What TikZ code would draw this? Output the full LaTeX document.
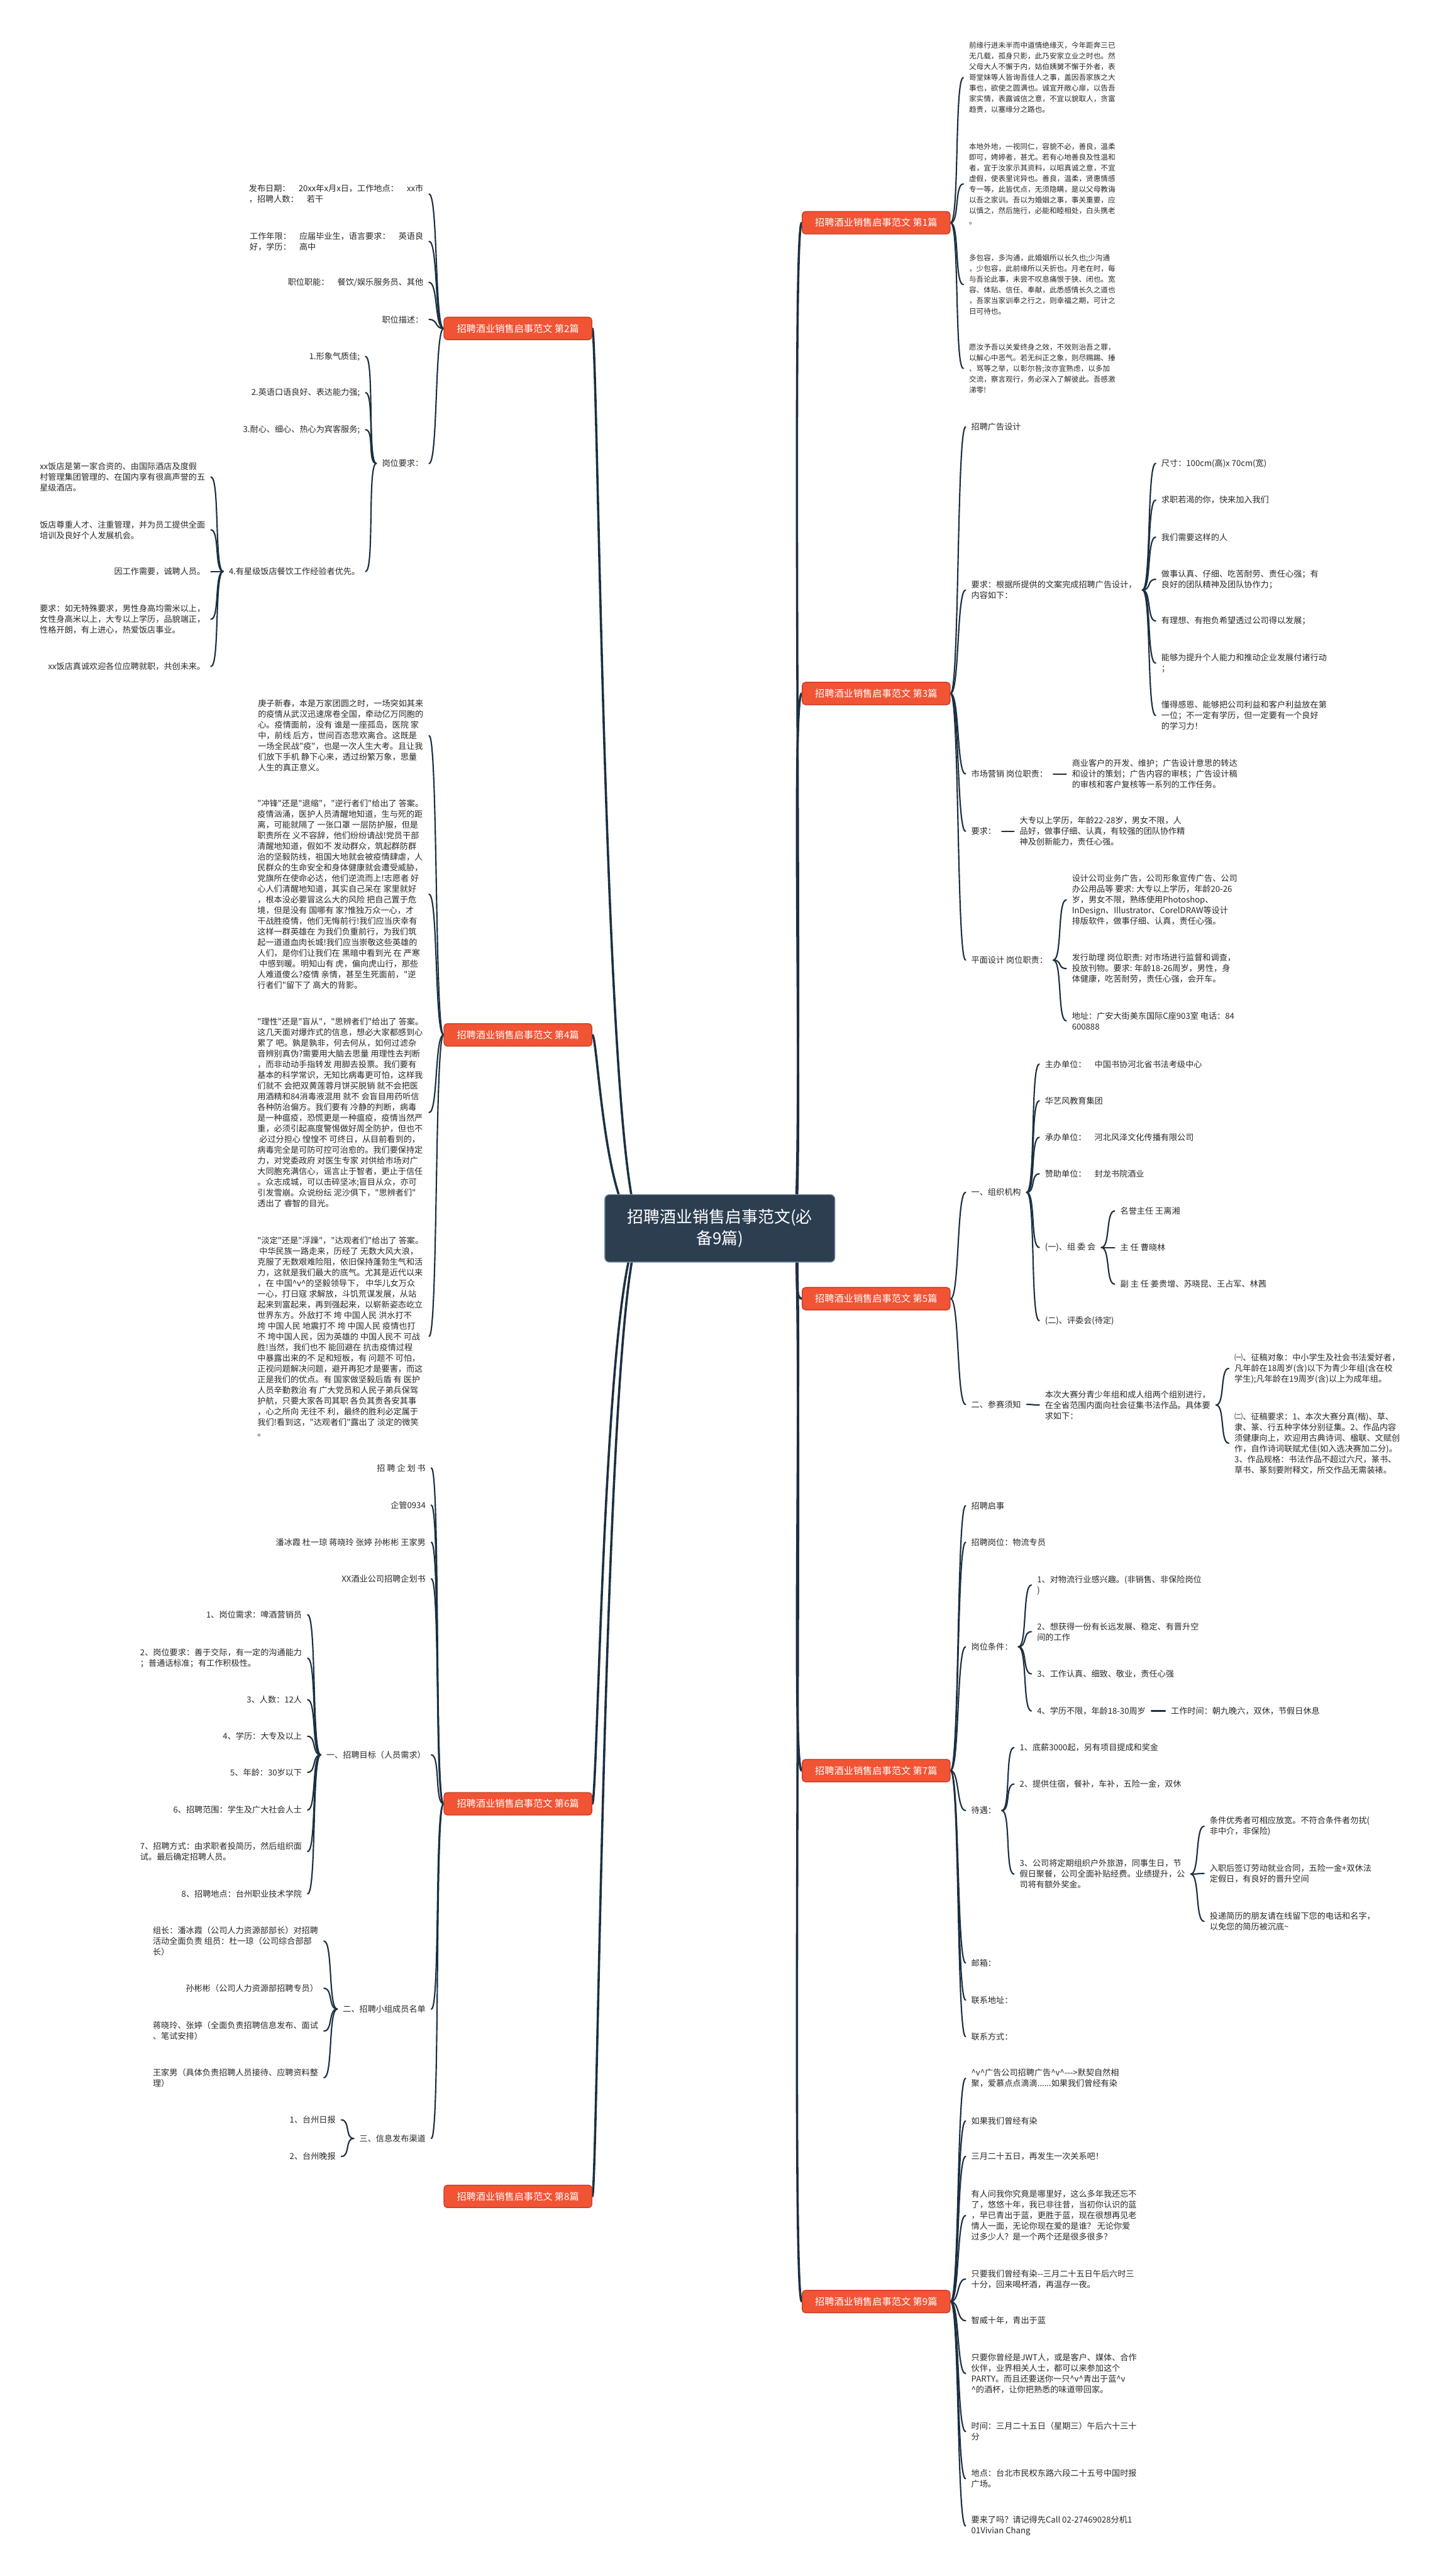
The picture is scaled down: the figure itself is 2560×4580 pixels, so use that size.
\documentclass[tikz,border=0pt]{standalone}
\usepackage{fontspec}
\newfontfamily\cjk{Noto Sans CJK SC}
\usetikzlibrary{backgrounds}
\definecolor{linkcol}{RGB}{28,48,66}
\definecolor{rootcol}{RGB}{44,62,80}
\definecolor{rootedge}{RGB}{120,140,160}
\definecolor{branchcol}{RGB}{240,84,52}
\definecolor{branchedge}{RGB}{200,58,34}
\definecolor{leafcol}{RGB}{40,40,40}
\tikzset{
  trunkline/.style={draw=linkcol, line width=4pt, line cap=round},
  linkline/.style={draw=linkcol, line width=2.4pt, line cap=round},
  rootnode/.style={fill=rootcol, draw=rootedge, line width=1.5pt, rounded corners=8pt, text=white, font=\cjk\fontsize{29pt}{38pt}\selectfont, align=center, minimum width=409pt, minimum height=120pt},
  branchnode/.style={fill=branchcol, draw=branchedge, line width=1.5pt, rounded corners=6pt, text=white, font=\cjk\fontsize{17pt}{20pt}\selectfont, minimum width=263pt, minimum height=40pt, inner xsep=8pt},
  leafnode/.style={text=leafcol, font=\cjk\fontsize{14.7pt}{19pt}\selectfont, align=left, inner xsep=10pt, inner ysep=2pt, anchor=west},
  leafleft/.style={leafnode, anchor=east},
  oldleaf/.style={leafnode, font=\cjk\fontsize{13pt}{19pt}\selectfont}
}
\begin{document}
\begin{tikzpicture}[x=1pt, y=-1pt]
\useasboundingbox (0,0) rectangle (2560,4580);
\begin{scope}[on background layer]
  \fill[white] (0,0) rectangle (2560,4580);
\end{scope}

% centre and the nine branches
\node[rootnode] (root) at (1280,2184) {招聘酒业销售启事范文(必\\备9篇)};
\node[branchnode] (b1) at (1558,396) {招聘酒业销售启事范文 第1篇};
\node[branchnode] (b3) at (1558,1233) {招聘酒业销售启事范文 第3篇};
\node[branchnode] (b5) at (1558,2309) {招聘酒业销售启事范文 第5篇};
\node[branchnode] (b7) at (1558,3148) {招聘酒业销售启事范文 第7篇};
\node[branchnode] (b9) at (1558,4092) {招聘酒业销售启事范文 第9篇};
\node[branchnode] (b2) at (921,584) {招聘酒业销售启事范文 第2篇};
\node[branchnode] (b4) at (921,1840) {招聘酒业销售启事范文 第4篇};
\node[branchnode] (b6) at (921,3207) {招聘酒业销售启事范文 第6篇};
\node[branchnode] (b8) at (921,3905) {招聘酒业销售启事范文 第8篇};

% branch 1
\node[oldleaf] (b1a) at (1713,138) {前缘行进未半而中道情绝缘灭，今年距奔三已\\无几载，孤身只影，此乃安家立业之时也。然\\父母大人不懈于内，姑伯姨舅不懈于外者，表\\哥堂妹等人皆询吾佳人之事，盖因吾家族之大\\事也，欲使之圆满也。诚宜开敞心扉，以告吾\\家实情，表露诚信之意，不宜以貌取人，贪富\\趋贵，以塞缘分之路也。};
\node[oldleaf] (b1b) at (1713,327) {本地外地，一视同仁，容貌不必，善良，温柔\\即可，娉婷者，甚尤。若有心地善良及性温和\\者，宜于汝家示其资料，以昭真诚之意，不宜\\虚假，使表里诧异也。善良，温柔，贤惠情感\\专一等，此皆优点，无须隐瞒，是以父母教诲\\以吾之家训。吾以为婚姻之事，事关重要，应\\以慎之，然后施行，必能和睦相处，白头携老\\。};
\node[oldleaf] (b1c) at (1713,506) {多包容，多沟通，此婚姻所以长久也;少沟通\\，少包容，此前缘所以夭折也。月老在时，每\\与吾论此事，未尝不叹息痛恨于狭、闭也。宽\\容、体贴、信任、奉献，此悉感情长久之道也\\，吾家当家训奉之行之，则幸福之期，可计之\\日可待也。};
\node[oldleaf] (b1d) at (1713,655) {愿汝予吾以关爱终身之效，不效则治吾之罪，\\以解心中恶气。若无纠正之象，则尽赐踢、捶\\、骂等之举，以彰尔咎;汝亦宜熟虑，以多加\\交流，察言观行，务必深入了解彼此。吾感激\\涕零!};

% branch 3
\node[leafnode] (b3a) at (1717,759) {招聘广告设计};
\node[leafnode] (b3b) at (1717,1049) {要求：根据所提供的文案完成招聘广告设计，\\内容如下：};
\node[leafnode] (b3b1) at (2055,824) {尺寸：100cm(高)x 70cm(宽)};
\node[leafnode] (b3b2) at (2055,889) {求职若渴的你，快来加入我们};
\node[leafnode] (b3b3) at (2055,955) {我们需要这样的人};
\node[leafnode] (b3b4) at (2055,1030) {做事认真、仔细、吃苦耐劳、责任心强；有\\良好的团队精神及团队协作力；};
\node[leafnode] (b3b5) at (2055,1104) {有理想、有抱负希望透过公司得以发展；};
\node[leafnode] (b3b6) at (2055,1179) {能够为提升个人能力和推动企业发展付诸行动\\；};
\node[leafnode] (b3b7) at (2055,1272) {懂得感恩、能够把公司利益和客户利益放在第\\一位；不一定有学历，但一定要有一个良好\\的学习力！};
\node[leafnode] (b3c) at (1717,1376) {市场营销 岗位职责：};
\node[leafnode] (b3c1) at (1896,1376) {商业客户的开发、维护；广告设计意思的转达\\和设计的策划；广告内容的审核；广告设计稿\\的审核和客户复核等一系列的工作任务。};
\node[leafnode] (b3d) at (1717,1478) {要求：};
\node[leafnode] (b3d1) at (1803,1478) {大专以上学历，年龄22-28岁，男女不限，人\\品好，做事仔细、认真，有较强的团队协作精\\神及创新能力，责任心强。};
\node[leafnode] (b3e) at (1717,1707) {平面设计 岗位职责：};
\node[leafnode] (b3e1) at (1896,1600) {设计公司业务广告，公司形象宣传广告、公司\\办公用品等 要求: 大专以上学历，年龄20-26\\岁，男女不限，熟练使用Photoshop、\\InDesign、Illustrator、CorelDRAW等设计\\排版软件，做事仔细、认真，责任心强。};
\node[leafnode] (b3e2) at (1896,1722) {发行助理 岗位职责: 对市场进行监督和调查，\\投放刊物。要求: 年龄18-26周岁，男性，身\\体健康，吃苦耐劳，责任心强，会开车。};
\node[leafnode] (b3e3) at (1896,1815) {地址：广安大街美东国际C座903室 电话：84\\600888};

% branch 5
\node[leafnode] (b5a) at (1717,2120) {一、组织机构};
\node[leafnode] (b5a1) at (1848,1892) {主办单位：　中国书协河北省书法考级中心};
\node[leafnode] (b5a2) at (1848,1957) {华艺风教育集团};
\node[leafnode] (b5a3) at (1848,2022) {承办单位：　河北风泽文化传播有限公司};
\node[leafnode] (b5a4) at (1848,2087) {赞助单位：　封龙书院酒业};
\node[leafnode] (b5a5) at (1848,2218) {(一)、组 委 会};
\node[leafnode] (b5a5a) at (1982,2153) {名誉主任 王离湘};
\node[leafnode] (b5a5b) at (1982,2218) {主 任 曹晓林};
\node[leafnode] (b5a5c) at (1982,2283) {副 主 任 姜贵增、苏晓昆、王占军、林茜};
\node[leafnode] (b5a6) at (1848,2348) {(二)、评委会(待定)};
\node[leafnode] (b5b) at (1717,2497) {二、参赛须知};
\node[leafnode] (b5b1) at (1848,2498) {本次大赛分青少年组和成人组两个组别进行，\\在全省范围内面向社会征集书法作品。具体要\\求如下：};
\node[leafnode] (b5b1a) at (2185,2433) {㈠、征稿对象：中小学生及社会书法爱好者，\\凡年龄在18周岁(含)以下为青少年组(含在校\\学生);凡年龄在19周岁(含)以上为成年组。};
\node[leafnode] (b5b1b) at (2185,2566) {㈡、征稿要求：1、本次大赛分真(楷)、草、\\隶、篆、行五种字体分别征集。2、作品内容\\须健康向上，欢迎用古典诗词、楹联、文赋创\\作，自作诗词联赋尤佳(如入选决赛加二分)。\\3、作品规格：书法作品不超过六尺，篆书、\\草书、篆刻要附释文，所交作品无需装裱。};

% branch 7
\node[leafnode] (b7a) at (1717,2677) {招聘启事};
\node[leafnode] (b7b) at (1717,2742) {招聘岗位：物流专员};
\node[leafnode] (b7c) at (1717,2928) {岗位条件：};
\node[leafnode] (b7c1) at (1834,2818) {1、对物流行业感兴趣。(非销售、非保险岗位\\)};
\node[leafnode] (b7c2) at (1834,2901) {2、想获得一份有长远发展、稳定、有晋升空\\间的工作};
\node[leafnode] (b7c3) at (1834,2976) {3、工作认真、细致、敬业，责任心强};
\node[leafnode] (b7c4) at (1834,3042) {4、学历不限，年龄18-30周岁};
\node[leafnode] (b7c4a) at (2072,3042) {工作时间：朝九晚六，双休，节假日休息};
\node[leafnode] (b7d) at (1717,3219) {待遇：};
\node[leafnode] (b7d1) at (1803,3107) {1、底薪3000起，另有项目提成和奖金};
\node[leafnode] (b7d2) at (1803,3172) {2、提供住宿，餐补，车补，五险一金，双休};
\node[leafnode] (b7d3) at (1803,3332) {3、公司将定期组织户外旅游，同事生日，节\\假日聚餐，公司全面补贴经费。业绩提升，公\\司将有额外奖金。};
\node[leafnode] (b7d3a) at (2141,3247) {条件优秀者可相应放宽。不符合条件者勿扰(\\非中介，非保险)};
\node[leafnode] (b7d3b) at (2141,3331) {入职后签订劳动就业合同，五险一金+双休法\\定假日，有良好的晋升空间};
\node[leafnode] (b7d3c) at (2141,3416) {投递简历的朋友请在线留下您的电话和名字，\\以免您的简历被沉底\textasciitilde};
\node[leafnode] (b7e) at (1717,3490) {邮箱：};
\node[leafnode] (b7f) at (1717,3556) {联系地址：};
\node[leafnode] (b7g) at (1717,3621) {联系方式：};

% branch 9
\node[leafnode] (b9a) at (1717,3695) {\textasciicircum v\textasciicircum 广告公司招聘广告\textasciicircum v\textasciicircum -{}-{}-{}>默契自然相\\聚，爱慕点点滴滴......如果我们曾经有染};
\node[leafnode] (b9b) at (1717,3771) {如果我们曾经有染};
\node[leafnode] (b9c) at (1717,3834) {三月二十五日，再发生一次关系吧！};
\node[leafnode] (b9d) at (1717,3939) {有人问我你究竟是哪里好，这么多年我还忘不\\了，悠悠十年，我已非往昔，当初你认识的蓝\\，早已青出于蓝，更胜于蓝，现在很想再见老\\情人一面，无论你现在爱的是谁？ 无论你爱\\过多少人？是一个两个还是很多很多？};
\node[leafnode] (b9e) at (1717,4052) {只要我们曾经有染-{}-三月二十五日午后六时三\\十分，回来喝杯酒，再温存一夜。};
\node[leafnode] (b9f) at (1717,4126) {智威十年，青出于蓝};
\node[leafnode] (b9g) at (1717,4220) {只要你曾经是JWT人，或是客户、媒体、合作\\伙伴，业界相关人士，都可以来参加这个\\PARTY。而且还要送你一只\textasciicircum v\textasciicircum 青出于蓝\textasciicircum v\\\textasciicircum 的酒杯，让你把熟悉的味道带回家。};
\node[leafnode] (b9h) at (1717,4323) {时间：三月二十五日（星期三）午后六十三十\\分};
\node[leafnode] (b9i) at (1717,4407) {地点：台北市民权东路六段二十五号中国时报\\广场。};
\node[leafnode] (b9j) at (1717,4491) {要来了吗？请记得先Call 02-27469028分机1\\01Vivian Chang};

% branch 2
\node[leafleft] (b2a) at (763,345) {发布日期：　20xx年x月x日，工作地点：　xx市\\，招聘人数：　若干};
\node[leafleft] (b2b) at (763,429) {工作年限：　应届毕业生，语言要求：　英语良\\好，学历：　高中};
\node[leafleft] (b2c) at (763,502) {职位职能：　餐饮/娱乐服务员、其他};
\node[leafleft] (b2d) at (763,568) {职位描述：};
\node[leafleft] (b2e) at (763,824) {岗位要求：};
\node[leafleft] (b2e1) at (650,634) {1.形象气质佳;};
\node[leafleft] (b2e2) at (650,698) {2.英语口语良好、表达能力强;};
\node[leafleft] (b2e3) at (650,764) {3.耐心、细心、热心为宾客服务;};
\node[leafleft] (b2e4) at (650,1016) {4.有星级饭店餐饮工作经验者优先。};
\node[leafleft] (b2e4a) at (375,848) {xx饭店是第一家合资的、由国际酒店及度假\\村管理集团管理的、在国内享有很高声誉的五\\星级酒店。};
\node[leafleft] (b2e4b) at (375,942) {饭店尊重人才、注重管理，并为员工提供全面\\培训及良好个人发展机会。};
\node[leafleft] (b2e4c) at (375,1016) {因工作需要，诚聘人员。};
\node[leafleft] (b2e4d) at (375,1101) {要求：如无特殊要求，男性身高均需米以上，\\女性身高米以上，大专以上学历，品貌端正，\\性格开朗，有上进心，热爱饭店事业。};
\node[leafleft] (b2e4e) at (375,1185) {xx饭店真诚欢迎各位应聘就职，共创未来。};

% branch 4
\node[leafleft] (b4a) at (763,1308) {庚子新春，本是万家团圆之时，一场突如其来\\的疫情从武汉迅速席卷全国，牵动亿万同胞的\\心。疫情面前，没有 谁是一座孤岛，医院 家\\中，前线 后方，世间百态悲欢离合。这既是\\一场全民战"疫"，也是一次人生大考。且让我\\们放下手机 静下心来，透过纷繁万象，思量\\人生的真正意义。};
\node[leafleft] (b4b) at (763,1590) {"冲锋"还是"退缩"，"逆行者们"给出了 答案。\\疫情汹涌，医护人员清醒地知道，生与死的距\\离，可能就隔了 一张口罩 一层防护服，但是\\职责所在 义不容辞，他们纷纷请战!党员干部\\清醒地知道，假如不 发动群众，筑起群防群\\治的坚毅防线，祖国大地就会被疫情肆虐，人\\民群众的生命安全和身体健康就会遭受威胁，\\党旗所在使命必达，他们逆流而上!志愿者 好\\心人们清醒地知道，其实自己呆在 家里就好\\，根本没必要冒这么大的风险 把自己置于危\\境，但是没有 国哪有 家?惟独万众一心，才\\干战胜疫情，他们无悔前行!我们应当庆幸有\\这样一群英雄在 为我们负重前行，为我们筑\\起一道道血肉长城!我们应当崇敬这些英雄的\\人们，是你们让我们在 黑暗中看到光 在 严寒\\\ 中感到暖。明知山有 虎，偏向虎山行，那些\\人难道傻么?疫情 亲情，甚至生死面前，"逆\\行者们"留下了 高大的背影。};
\node[leafleft] (b4c) at (763,1978) {"理性"还是"盲从"，"思辨者们"给出了 答案。\\这几天面对爆炸式的信息，想必大家都感到心\\累了 吧。孰是孰非，何去何从，如何过滤杂\\音辨别真伪?需要用大脑去思量 用理性去判断\\，而非动动手指转发 用脚去投票。我们要有\\基本的科学常识，无知比病毒更可怕，这样我\\们就不 会把双黄莲蓉月饼买脱销 就不会把医\\用酒精和84消毒液混用 就不 会盲目用药听信\\各种防治偏方。我们要有 冷静的判断，病毒\\是一种瘟疫，恐慌更是一种瘟疫，疫情当然严\\重，必须引起高度警惕做好周全防护，但也不\\\ 必过分担心 惶惶不 可终日，从目前看到的，\\病毒完全是可防可控可治愈的。我们要保持定\\力，对党委政府 对医生专家 对供给市场对广\\大同胞充满信心，谣言止于智者，更止于信任\\。众志成城，可以击碎坚冰;盲目从众，亦可\\引发雪崩。众说纷纭 泥沙俱下，"思辨者们"\\透出了 睿智的目光。};
\node[leafleft] (b4d) at (763,2376) {"淡定"还是"浮躁"，"达观者们"给出了 答案。\\\ 中华民族一路走来，历经了 无数大风大浪，\\克服了无数艰难险阻，依旧保持蓬勃生气和活\\力，这就是我们最大的底气。尤其是近代以来\\，在 中国\textasciicircum v\textasciicircum 的坚毅领导下， 中华儿女万众\\一心，打日寇 求解放，斗饥荒谋发展，从站\\起来到富起来，再到强起来，以崭新姿态屹立\\世界东方。外敌打不 垮 中国人民 洪水打不\\垮 中国人民 地震打不 垮 中国人民 疫情也打\\不 垮中国人民，因为英雄的 中国人民不 可战\\胜!当然，我们也不 能回避在 抗击疫情过程\\中暴露出来的不 足和短板，有 问题不 可怕，\\正视问题解决问题，避开再犯才是要害，而这\\正是我们的优点。有 国家做坚毅后盾 有 医护\\人员辛勤救治 有 广大党员和人民子弟兵保驾\\护航，只要大家各司其职 各负其责各安其事\\，心之所向 无往不 利，最终的胜利必定属于\\我们!看到这，"达观者们"露出了 淡定的微笑\\。};

% branch 6
\node[leafleft] (b6a) at (767,2610) {招 聘 企 划 书};
\node[leafleft] (b6b) at (767,2676) {企管0934};
\node[leafleft] (b6c) at (767,2742) {潘冰霞 杜一琼 蒋晓玲 张婷 孙彬彬 王家男};
\node[leafleft] (b6d) at (767,2807) {XX酒业公司招聘企划书};
\node[leafleft] (b6e) at (767,3120) {一、招聘目标（人员需求）};
\node[leafleft] (b6e1) at (547,2871) {1、岗位需求：啤酒营销员};
\node[leafleft] (b6e2) at (547,2948) {2、岗位要求：善于交际，有一定的沟通能力\\；普通话标准；有工作积极性。};
\node[leafleft] (b6e3) at (547,3022) {3、人数：12人};
\node[leafleft] (b6e4) at (547,3087) {4、学历：大专及以上};
\node[leafleft] (b6e5) at (547,3151) {5、年龄：30岁以下};
\node[leafleft] (b6e6) at (547,3218) {6、招聘范围：学生及广大社会人士};
\node[leafleft] (b6e7) at (547,3292) {7、招聘方式：由求职者投简历，然后组织面\\试。最后确定招聘人员。};
\node[leafleft] (b6e8) at (547,3367) {8、招聘地点：台州职业技术学院};
\node[leafleft] (b6f) at (767,3572) {二、招聘小组成员名单};
\node[leafleft] (b6f1) at (576,3451) {组长：潘冰霞（公司人力资源部部长）对招聘\\活动全面负责 组员：杜一琼（公司综合部部\\长）};
\node[leafleft] (b6f2) at (576,3535) {孙彬彬（公司人力资源部招聘专员）};
\node[leafleft] (b6f3) at (576,3611) {蒋晓玲、张婷（全面负责招聘信息发布、面试\\、笔试安排）};
\node[leafleft] (b6f4) at (576,3694) {王家男（具体负责招聘人员接待、应聘资料整\\理）};
\node[leafleft] (b6g) at (767,3802) {三、信息发布渠道};
\node[leafleft] (b6g1) at (607,3769) {1、台州日报};
\node[leafleft] (b6g2) at (607,3834) {2、台州晚报};

% connectors
\begin{scope}[on background layer]
  \foreach \b in {b1,b3,b5,b7,b9}
    \draw[trunkline] ([xshift=-74pt]root.east) .. controls +(20,0) and +(-21,0) .. (\b.west);
  \foreach \b in {b2,b4,b6,b8}
    \draw[trunkline] ([xshift=70pt]root.west) .. controls +(-70,0) and +(10,0) .. (\b.east);
  \foreach \p/\c in {b1/b1a,b1/b1b,b1/b1c,b1/b1d,
      b3/b3a,b3/b3b,b3/b3c,b3/b3d,b3/b3e,
      b3b/b3b1,b3b/b3b2,b3b/b3b3,b3b/b3b4,b3b/b3b5,b3b/b3b6,b3b/b3b7,
      b3c/b3c1,b3d/b3d1,b3e/b3e1,b3e/b3e2,b3e/b3e3,
      b5/b5a,b5/b5b,b5a/b5a1,b5a/b5a2,b5a/b5a3,b5a/b5a4,b5a/b5a5,b5a/b5a6,
      b5a5/b5a5a,b5a5/b5a5b,b5a5/b5a5c,b5b/b5b1,b5b1/b5b1a,b5b1/b5b1b,
      b7/b7a,b7/b7b,b7/b7c,b7/b7d,b7/b7e,b7/b7f,b7/b7g,
      b7c/b7c1,b7c/b7c2,b7c/b7c3,b7c/b7c4,b7c4/b7c4a,
      b7d/b7d1,b7d/b7d2,b7d/b7d3,b7d3/b7d3a,b7d3/b7d3b,b7d3/b7d3c,
      b9/b9a,b9/b9b,b9/b9c,b9/b9d,b9/b9e,b9/b9f,b9/b9g,b9/b9h,b9/b9i,b9/b9j}
    \draw[linkline] (\p.east) .. controls +(16,0) and +(-16,0) .. (\c.west);
  \foreach \p/\c in {b2/b2a,b2/b2b,b2/b2c,b2/b2d,b2/b2e,
      b2e/b2e1,b2e/b2e2,b2e/b2e3,b2e/b2e4,
      b2e4/b2e4a,b2e4/b2e4b,b2e4/b2e4c,b2e4/b2e4d,b2e4/b2e4e,
      b4/b4a,b4/b4b,b4/b4c,b4/b4d,
      b6/b6a,b6/b6b,b6/b6c,b6/b6d,b6/b6e,b6/b6f,b6/b6g,
      b6e/b6e1,b6e/b6e2,b6e/b6e3,b6e/b6e4,b6e/b6e5,b6e/b6e6,b6e/b6e7,b6e/b6e8,
      b6f/b6f1,b6f/b6f2,b6f/b6f3,b6f/b6f4,b6g/b6g1,b6g/b6g2}
    \draw[linkline] (\p.west) .. controls +(-16,0) and +(16,0) .. (\c.east);
\end{scope}
\end{tikzpicture}
\end{document}
